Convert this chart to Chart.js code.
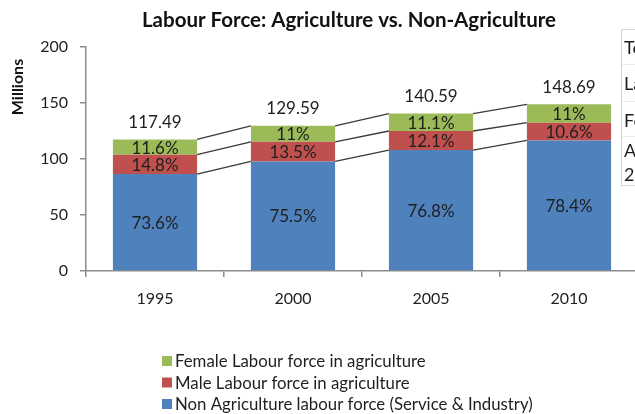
<!DOCTYPE html>
<html>
<head>
<meta charset="utf-8">
<script src="https://cdn.jsdelivr.net/npm/chart.js@4.4.1/dist/chart.umd.min.js"></script>
<style>
  html, body { margin: 0; padding: 0; background: #fff; overflow: hidden; }
  #wrap { width: 640px; height: 414px; }
</style>
</head>
<body>
<div id="wrap"><canvas id="laborChart" width="640" height="414"></canvas></div>
<script>
// Chart data
const years = ["1995", "2000", "2005", "2010"];
const nonAgri = [86.5, 97.8, 108.0, 116.6];
const maleAgri = [17.4, 17.5, 17.0, 15.8];
const femaleAgri = [13.6, 14.3, 15.6, 16.4];
const nonAgriPct = ["73.6%", "75.5%", "76.8%", "78.4%"];
const malePct = ["14.8%", "13.5%", "12.1%", "10.6%"];
const femalePct = ["11.6%", "11%", "11.1%", "11%"];
const totals = ["117.49", "129.59", "140.59", "148.69"];
const yTicks = [0, 50, 100, 150, 200];
const tableBits = ["To", "La", "Fe", "A", "20"];

const FONT = "Lato, 'Open Sans', sans-serif";
const TEXT = "#1f1f1f";

// labels, series lines, title, legend and the cut-off table on the right
const decorations = {
    id: "decorations",
    afterDatasetsDraw(chart) {
        const ctx = chart.ctx;
        const metas = [0, 1, 2].map(i => chart.getDatasetMeta(i));
        const pctLabels = [nonAgriPct, malePct, femalePct];

        // series lines between bars
        ctx.save();
        ctx.strokeStyle = "#3a3a3a";
        ctx.lineWidth = 1.3;
        metas.forEach(meta => {
            for (let i = 0; i < meta.data.length - 1; i++) {
                const a = meta.data[i], b = meta.data[i + 1];
                ctx.beginPath();
                ctx.moveTo(a.x + a.width / 2, a.y);
                ctx.lineTo(b.x - b.width / 2, b.y);
                ctx.stroke();
            }
        });

        // percentage labels inside the segments
        ctx.fillStyle = TEXT;
        ctx.textAlign = "center";
        ctx.textBaseline = "middle";
        ctx.font = "17px " + FONT;
        metas.forEach((meta, d) => {
            meta.data.forEach((bar, i) => {
                ctx.fillText(pctLabels[d][i], bar.x, (bar.y + bar.base) / 2 + 1);
            });
        });

        // totals above the bars
        metas[2].data.forEach((bar, i) => {
            ctx.fillText(totals[i], bar.x, bar.y - 17);
        });
        ctx.restore();
    },
    afterDraw(chart) {
        const ctx = chart.ctx;
        ctx.save();

        // title
        ctx.fillStyle = "#111";
        ctx.textAlign = "center";
        ctx.textBaseline = "middle";
        ctx.font = "bold 20.5px " + FONT;
        ctx.fillText("Labour Force: Agriculture vs. Non-Agriculture", 349, 20);

        // y axis title
        ctx.save();
        ctx.translate(18, 87);
        ctx.rotate(-Math.PI / 2);
        ctx.font = "bold 16px " + FONT;
        ctx.fillText("Millions", 0, 0);
        ctx.restore();

        // legend (reverse order, as in the original)
        const order = [2, 1, 0];
        ctx.textAlign = "left";
        ctx.font = "16.8px " + FONT;
        order.forEach((d, row) => {
            const ds = chart.data.datasets[d];
            const y = 361 + row * 21.5;
            ctx.fillStyle = ds.backgroundColor;
            ctx.fillRect(162, y - 5, 10, 10);
            ctx.fillStyle = TEXT;
            ctx.fillText(ds.label, 175, y + 1);
        });

        // partly visible table at the right edge
        ctx.strokeStyle = "#d4d4d4";
        ctx.lineWidth = 1;
        ctx.strokeRect(621.5, 29.5, 40, 156);
        [64, 101, 136].forEach(y => {
            ctx.beginPath();
            ctx.moveTo(622, y + 0.5);
            ctx.lineTo(640, y + 0.5);
            ctx.strokeStyle = "#ececec";
            ctx.stroke();
        });
        ctx.fillStyle = TEXT;
        ctx.font = "18px " + FONT;
        [48, 84, 121, 151, 175].forEach((y, i) => {
            ctx.fillText(tableBits[i], 624, y);
        });
        ctx.restore();
    }
};

new Chart(document.getElementById("laborChart").getContext("2d"), {
    type: "bar",
    data: {
        labels: years,
        datasets: [
            { label: "Non Agriculture labour force (Service & Industry)", data: nonAgri, backgroundColor: "#4f81bd" },
            { label: "Male Labour force in agriculture", data: maleAgri, backgroundColor: "#c0504d" },
            { label: "Female Labour force in agriculture", data: femaleAgri, backgroundColor: "#9bbb59" }
        ]
    },
    options: {
        responsive: false,
        devicePixelRatio: 1,
        animation: false,
        layout: { padding: { top: 47, right: 2, left: 0, bottom: 0 } },
        datasets: { bar: { categoryPercentage: 1, barPercentage: 0.61, borderWidth: 0 } },
        plugins: { legend: { display: false }, title: { display: false }, tooltip: { enabled: false } },
        scales: {
            x: {
                stacked: true,
                afterFit: s => { s.height = 143; },
                border: { color: "#8c8c8c", width: 1.5 },
                grid: { offset: true, drawOnChartArea: false, drawTicks: true, tickLength: 6, color: "#8c8c8c", lineWidth: 1.5 },
                ticks: { color: TEXT, font: { family: FONT, size: 16 }, padding: 12 }
            },
            y: {
                stacked: true,
                min: 0,
                max: 200,
                afterFit: s => { s.width = 86; },
                afterBuildTicks: s => { s.ticks = yTicks.map(v => ({ value: v })); },
                border: { color: "#8c8c8c", width: 1.5 },
                grid: { drawOnChartArea: false, drawTicks: true, tickLength: 6, color: "#8c8c8c", lineWidth: 1.5 },
                ticks: { color: TEXT, font: { family: FONT, size: 16 }, padding: 12 }
            }
        }
    },
    plugins: [decorations]
});
</script>
</body>
</html>
